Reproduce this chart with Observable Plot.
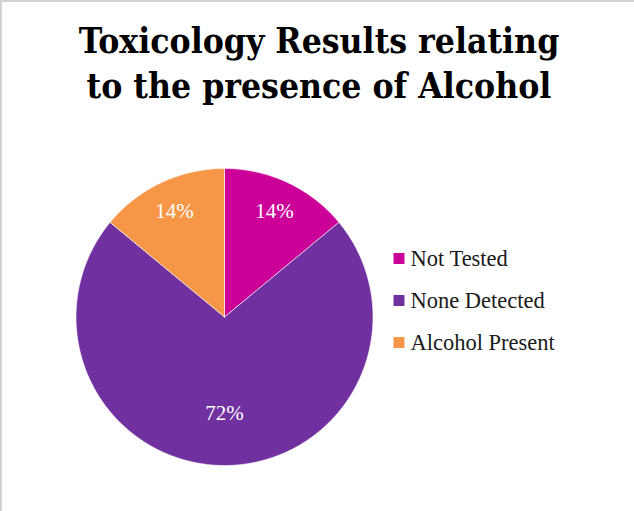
<!DOCTYPE html>
<html><head><meta charset="utf-8">
<script src="https://cdn.jsdelivr.net/npm/d3@7"></script>
<script src="https://cdn.jsdelivr.net/npm/@observablehq/plot@0.6"></script>
<style>
body{margin:0;background:#fff;}
#wrap{position:relative;width:634px;height:511px;overflow:hidden;background:#fff;}
#chart{position:absolute;left:0;top:0;}
#title{position:absolute;left:0;top:18px;width:638px;text-align:center;font-weight:bold;font-size:35.2px;font-family:"DejaVu Serif Condensed","DejaVu Serif",serif;line-height:45px;color:#000;z-index:2;}
#frame{position:absolute;left:0;top:0;width:634px;height:511px;box-sizing:border-box;border-top:2px solid #d4d4d4;border-left:2px solid #d4d4d4;pointer-events:none;z-index:3;}
</style></head><body>
<div id="wrap"><div id="chart"></div><div id="title">Toxicology Results relating<br>to the presence of Alcohol</div><div id="frame"></div></div>
<script>
const categories = ["Not Tested", "None Detected", "Alcohol Present"];
const values = [14, 72, 14];
const labels = ["14%", "72%", "14%"];
const colors = ["#CC0099", "#7030A0", "#F79646"];

const total = d3.sum(values);
const slices = [];
const labelPts = [];
let acc = 0;
values.forEach((v, i) => {
  const a0 = acc / total * 2 * Math.PI;
  acc += v;
  const a1 = acc / total * 2 * Math.PI;
  slices.push({cat: categories[i], x: 0, y: 0});
  const n = Math.max(2, Math.ceil((a1 - a0) / (Math.PI / 180)));
  for (let k = 0; k <= n; k++) {
    const a = a0 + (a1 - a0) * k / n;
    slices.push({cat: categories[i], x: Math.sin(a), y: Math.cos(a)});
  }
  slices.push({cat: categories[i], x: 0, y: 0});
  const am = (a0 + a1) / 2;
  const r = v / total > 0.5 ? 0.65 : 0.79;
  labelPts.push({label: labels[i], x: r * Math.sin(am), y: r * Math.cos(am)});
});

const legend = categories.map((c, i) => ({cat: c, x: 1.175, y: 0.394 - i * 0.283}));

const plot = Plot.plot({
  width: 634,
  height: 511,
  margin: 0,
  x: {domain: [-1, 1], range: [75.5, 372.5], axis: null},
  y: {domain: [-1, 1], range: [465, 168], axis: null},
  color: {domain: categories, range: colors},
  style: {background: "transparent"},
  marks: [
    Plot.line(slices, {x: "x", y: "y", z: "cat", fill: "cat", stroke: "white", strokeWidth: 0.6, curve: "linear"}),
    Plot.text(labelPts, {x: "x", y: "y", text: "label", fill: "white", fontSize: 21, fontFamily: "Liberation Serif, serif"}),
    Plot.dot(legend, {x: "x", y: "y", symbol: "square", fill: "cat", r: 6.2, stroke: null}),
    Plot.text(legend, {x: "x", y: "y", text: "cat", textAnchor: "start", dx: 11.5, fill: "#1a1a1a", fontSize: 22.5, fontFamily: "Liberation Serif, serif"})
  ]
});
document.getElementById("chart").appendChild(plot);
</script>
</body></html>
